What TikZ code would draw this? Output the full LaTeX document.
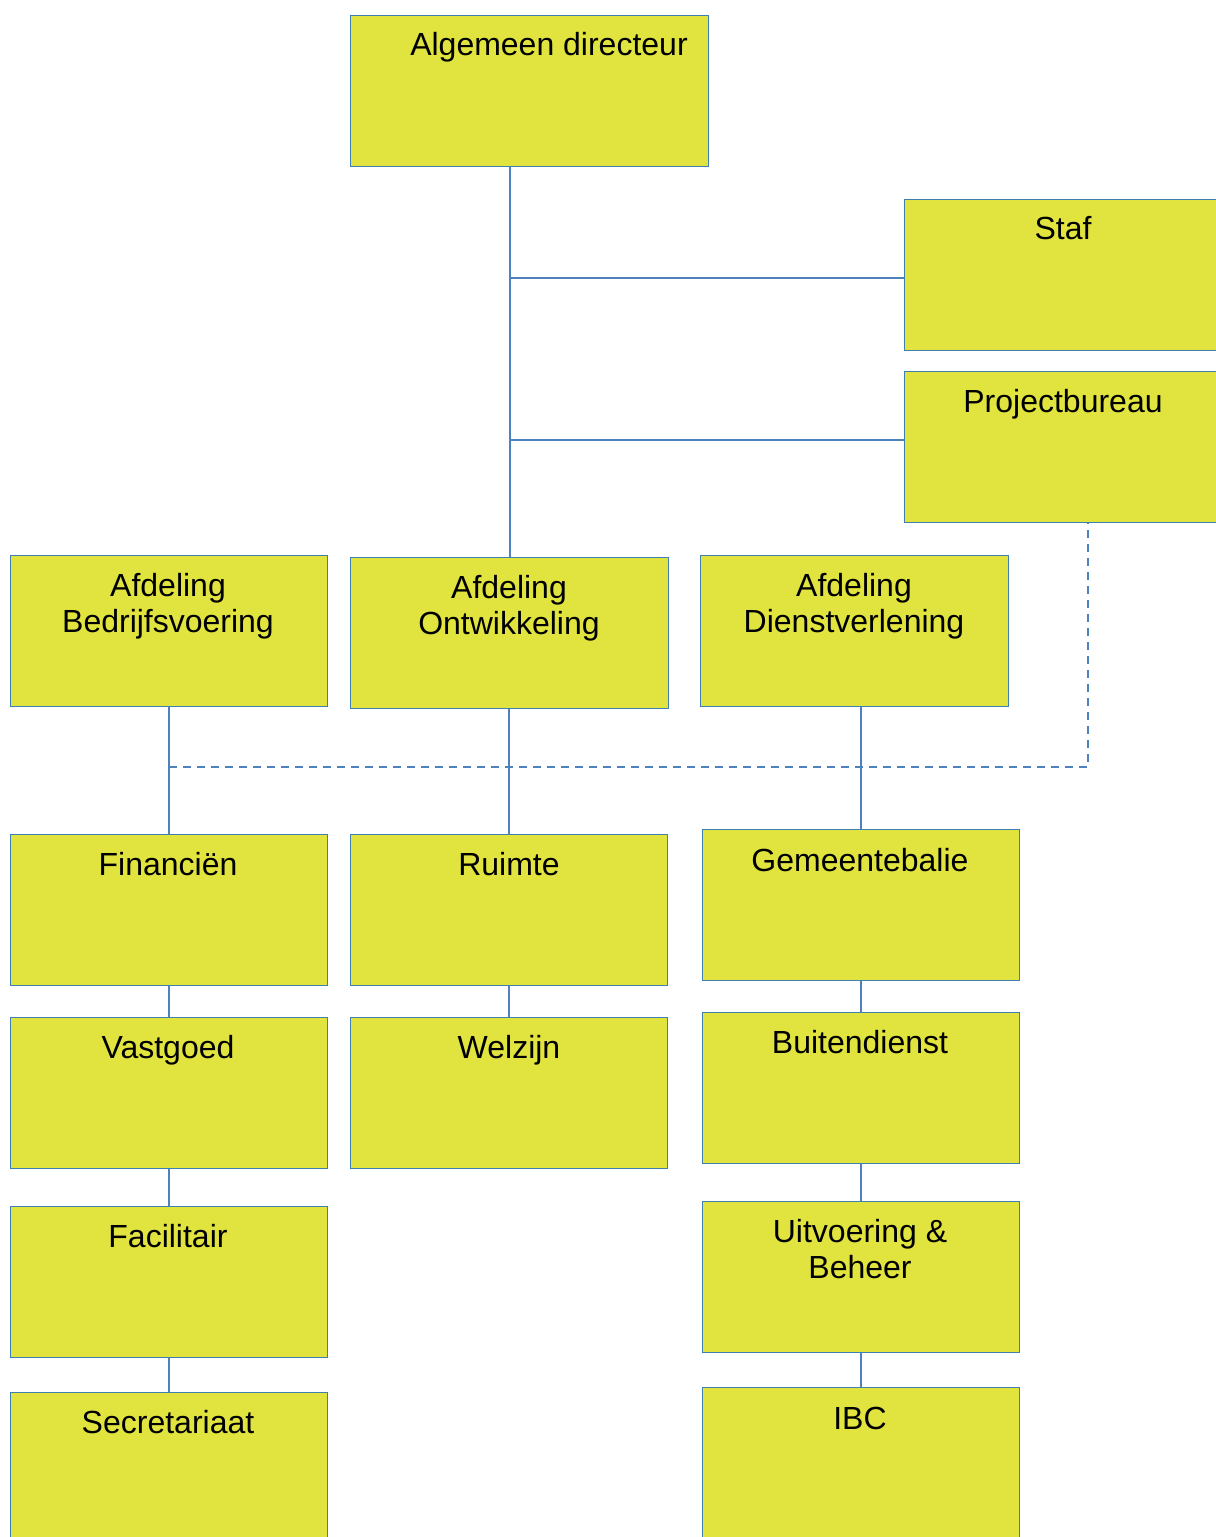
\documentclass[tikz,border=0pt]{standalone}
\usepackage{fontspec}
\setmainfont{Liberation Sans}
\definecolor{boxfill}{HTML}{E1E43E}
\definecolor{boxline}{HTML}{3F80B0}
\definecolor{conn}{HTML}{4F81BD}
\begin{document}
\begin{tikzpicture}[x=0.75pt,y=-0.75pt,
  orgbox/.style={draw=boxline, fill=boxfill, line width=1pt, inner sep=0pt, anchor=north west,
    minimum width=237.75pt, minimum height=113.25pt},
  lbl/.style={font=\fontsize{24}{27}\selectfont, align=center, inner sep=0pt, anchor=base},
  link/.style={draw=conn, line width=1.5pt},
  dlink/.style={draw=conn, line width=1.5pt, dash pattern=on 6pt off 4.5pt}]
\clip (0,0) rectangle (1216,1537);
\fill[white] (0,0) rectangle (1216,1537);
% boxes
\node[orgbox, minimum width=268.5pt] (dir) at (350,15) {};
\node[orgbox] (staf) at (904,199) {};
\node[orgbox] (proj) at (904,371) {};
\node[orgbox] (bedr) at (10,555) {};
\node[orgbox, minimum width=238.5pt] (ontw) at (350,557) {};
\node[orgbox, minimum width=231pt] (dienst) at (700,555) {};
\node[orgbox] (fin) at (10,834) {};
\node[orgbox] (ruimte) at (350,834) {};
\node[orgbox] (gem) at (702,829) {};
\node[orgbox] (vast) at (10,1017) {};
\node[orgbox] (welz) at (350,1017) {};
\node[orgbox] (buiten) at (702,1012) {};
\node[orgbox] (facil) at (10,1206) {};
\node[orgbox] (uitv) at (702,1201) {};
\node[orgbox] (secr) at (10,1392) {};
\node[orgbox] (ibc) at (702,1387) {};
% labels
\node[lbl] (tdir) at (549,56) {Algemeen directeur};
\node[lbl] (tstaf) at (1063,240) {Staf};
\node[lbl] (tproj) at (1063,412) {Projectbureau};
\node[lbl] (tbedr) at (168,632) {Afdeling\\Bedrijfsvoering};
\node[lbl] (tontw) at (509,634) {Afdeling\\Ontwikkeling};
\node[lbl] (tdienst) at (854,632) {Afdeling\\Dienstverlening};
\node[lbl] (tfin) at (168,875) {Financiën};
\node[lbl] (truimte) at (509,875) {Ruimte};
\node[lbl] (tgem) at (860,871) {Gemeentebalie};
\node[lbl] (tvast) at (168,1058) {Vastgoed};
\node[lbl] (twelz) at (509,1058) {Welzijn};
\node[lbl] (tbuiten) at (860,1053) {Buitendienst};
\node[lbl] (tfacil) at (168,1247) {Facilitair};
\node[lbl] (tuitv) at (860,1278) {Uitvoering \&\\Beheer};
\node[lbl] (tsecr) at (168,1433) {Secretariaat};
\node[lbl] (tibc) at (860,1429) {IBC};
% connectors
\coordinate (dc) at (1088,767);
\coordinate (sj) at ([yshift=-1.9pt]staf.west);
\coordinate (pj) at ([yshift=5.6pt]proj.west);
\draw[dlink] (bedr.south |- dc) -- (dc) -- (proj.south -| dc);
\draw[link] (ontw.north) -- (ontw.north |- dir.south);
\draw[link] (sj) -- (ontw.north |- sj);
\draw[link] (pj) -- (ontw.north |- pj);
\draw[link] (bedr.south) -- (fin.north);
\draw[link] (ruimte.north) -- (ruimte.north |- ontw.south);
\draw[link] (gem.north) -- (gem.north |- dienst.south);
\draw[link] (fin.south) -- (vast.north);
\draw[link] (vast.south) -- (facil.north);
\draw[link] (facil.south) -- (secr.north);
\draw[link] (ruimte.south) -- (welz.north);
\draw[link] (gem.south) -- (buiten.north);
\draw[link] (buiten.south) -- (uitv.north);
\draw[link] (uitv.south) -- (ibc.north);
\end{tikzpicture}
\end{document}
